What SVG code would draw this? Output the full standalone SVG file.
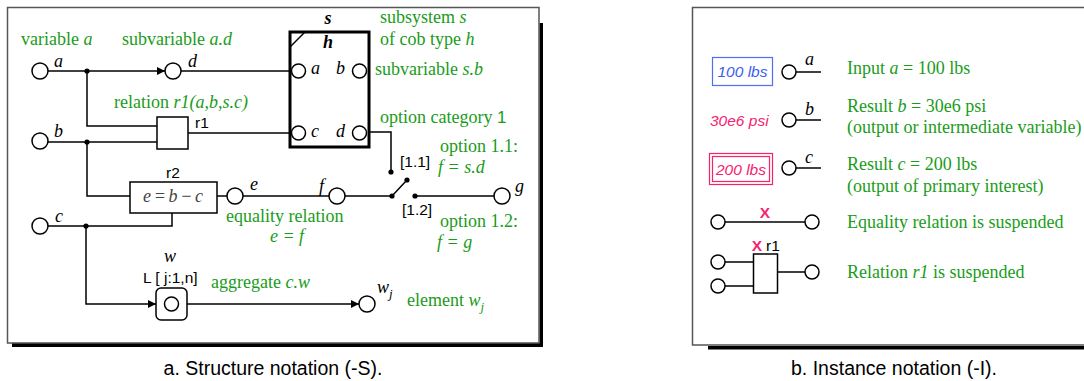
<svg xmlns="http://www.w3.org/2000/svg" width="1084" height="381" viewBox="0 0 1084 381">
<defs>
<marker id="arr" viewBox="0 0 10 10" refX="10" refY="5" markerWidth="8" markerHeight="8" markerUnits="userSpaceOnUse" orient="auto"><path d="M0,0 L10,5 L0,10 Z" fill="#000"/></marker>
</defs>
<style>
.g{font-family:"Liberation Serif",serif;font-size:18px;fill:#1a9c1a}
.lb{font-family:"Liberation Serif",serif;font-size:18px;font-style:italic;fill:#000}
.s{font-family:"Liberation Sans",sans-serif;font-size:15.5px;fill:#000}
.cap{font-family:"Liberation Sans",sans-serif;font-size:19.5px;fill:#000;text-anchor:middle}
.i{font-style:italic}
.n{fill:#fff;stroke:#000;stroke-width:1.5}
.w{fill:none;stroke:#000;stroke-width:1.5}
.dot{fill:#000}
.pk{fill:#f5236f}
</style>
<rect x="0" y="0" width="1084" height="381" fill="#fff"/>
<!-- panel frames -->
<g id="panel-a">
<rect x="539.5" y="23" width="3.5" height="324" fill="#000"/>
<rect x="12" y="343" width="531" height="4" fill="#000"/>
<rect x="7.5" y="7.5" width="531.5" height="335.5" fill="#fff" stroke="#555" stroke-width="1.5"/>
</g>
<g id="panel-b">
<rect x="708" y="346" width="376" height="3.5" fill="#000"/>
<path d="M1084,7.5 H692.5 V345 H1084" fill="#fff" stroke="#555" stroke-width="1.5"/>
</g>
<!-- connectors -->
<g id="connectors" class="w">
<path d="M48,71 H165" marker-end="url(#arr)"/>
<path d="M181,71 H290"/>
<path d="M87,71 V126 H157"/>
<path d="M48,142 H157"/>
<path d="M188,133 H290"/>
<path d="M87,142 V196 H130"/>
<path d="M48,226 H172 V213"/>
<path d="M217,196 H227"/>
<path d="M243,196 H329"/>
<path d="M86,226 V304 H156" marker-end="url(#arr)"/>
<path d="M187,304 H359" marker-end="url(#arr)"/>
<path d="M369,132 H391 V172"/>
<path d="M345,196 H392 L407,180"/>
<path d="M415,196 H494"/>
</g>
<g id="junctions" class="dot">
<circle cx="87" cy="71" r="2.6"/>
<circle cx="87" cy="142" r="2.6"/>
<circle cx="86" cy="226" r="2.6"/>
<circle cx="391" cy="172" r="2.6"/>
<circle cx="392" cy="196" r="2.6"/>
<circle cx="407" cy="180" r="2.6"/>
<circle cx="415" cy="196" r="2.6"/>
</g>
<!-- variable nodes -->
<g id="var-a"><circle class="n" cx="40" cy="71" r="8"/><text class="lb" x="54" y="67">a</text></g>
<g id="var-b"><circle class="n" cx="40" cy="141" r="8"/><text class="lb" x="54" y="137">b</text></g>
<g id="var-c"><circle class="n" cx="40" cy="226" r="8"/><text class="lb" x="55" y="222">c</text></g>
<g id="var-d"><circle class="n" cx="173" cy="71" r="8"/><text class="lb" x="188" y="67">d</text></g>
<g id="var-e"><circle class="n" cx="235" cy="196" r="8"/><text class="lb" x="250" y="190">e</text></g>
<g id="var-f"><circle class="n" cx="337" cy="196" r="8"/><text class="lb" x="319" y="192">f</text></g>
<g id="var-g"><circle class="n" cx="502" cy="196" r="8"/><text class="lb" x="515" y="192">g</text></g>
<g id="var-wj"><circle class="n" cx="367" cy="304" r="8"/><text class="lb" x="377" y="293">w<tspan font-size="13" dy="5">j</tspan></text></g>
<!-- relation r1 -->
<g id="rel-r1"><rect class="n" x="157" y="117" width="31" height="32"/><text class="s" x="195" y="128">r1</text></g>
<!-- relation r2 -->
<g id="rel-r2"><rect class="n" x="130" y="182" width="87" height="31"/><text class="s" x="173" y="178" text-anchor="middle">r2</text>
<text class="lb" x="143" y="202" textLength="60" lengthAdjust="spacing" style="fill:#444">e = b − c</text></g>
<!-- subsystem -->
<g id="subsystem-s">
<rect x="290" y="32" width="79" height="115" fill="#fff" stroke="#000" stroke-width="3"/>
<path d="M290,47 L305,32" class="w"/>
<text class="lb" x="328" y="24" text-anchor="middle" font-weight="bold">s</text>
<text class="lb" x="328" y="48" text-anchor="middle" font-weight="bold">h</text>
<circle class="n" cx="298.5" cy="71" r="7"/><text class="lb" x="311" y="74">a</text>
<circle class="n" cx="359.5" cy="71" r="7"/><text class="lb" x="336" y="74">b</text>
<circle class="n" cx="298.5" cy="133" r="7"/><text class="lb" x="311" y="137">c</text>
<circle class="n" cx="359.5" cy="133" r="7"/><text class="lb" x="336" y="137">d</text>
</g>
<!-- aggregate -->
<g id="aggregate-w">
<rect class="n" x="156" y="288" width="31" height="32" rx="5"/>
<circle class="n" cx="171.5" cy="304" r="7"/>
<text class="lb" x="170" y="262" text-anchor="middle">w</text>
<text class="s" x="143" y="283">L [ j:1,n]</text>
</g>
<!-- switch labels -->
<g id="option-switch">
<text class="s" x="400" y="167">[1.1]</text>
<text class="s" x="402" y="215">[1.2]</text>
</g>
<!-- green annotations panel a -->
<g id="annotations-a">
<text class="g" x="21" y="45">variable <tspan class="i">a</tspan></text>
<text class="g" x="122" y="45">subvariable <tspan class="i">a.d</tspan></text>
<text class="g" x="114" y="108">relation <tspan class="i">r1(a,b,s.c)</tspan></text>
<text class="g" x="380" y="23">subsystem <tspan class="i">s</tspan></text>
<text class="g" x="380" y="45">of cob type <tspan class="i">h</tspan></text>
<text class="g" x="375" y="75">subvariable  <tspan class="i">s.b</tspan></text>
<text class="g" x="380" y="123">option category <tspan font-family="Liberation Sans, sans-serif" font-size="17">1</tspan></text>
<text class="g" x="440" y="152">option 1.1:</text>
<text class="g i" x="438" y="173">f = s.d</text>
<text class="g" x="226" y="222">equality relation</text>
<text class="g i" x="287" y="242" text-anchor="middle">e = f</text>
<text class="g" x="440" y="227">option 1.2:</text>
<text class="g i" x="437" y="248">f = g</text>
<text class="g" x="211" y="288">aggregate <tspan class="i">c.w</tspan></text>
<text class="g" x="407" y="306">element <tspan class="i">w</tspan><tspan class="i" font-size="13" dy="5">j</tspan></text>
</g>
<!-- panel b legend -->
<g id="legend-input">
<rect x="712.5" y="57.5" width="60" height="28" fill="#fff" stroke="#4d6ef5" stroke-width="1.2"/>
<text class="s i" x="742.5" y="77" text-anchor="middle" style="fill:#3a5ff0">100 lbs</text>
<circle class="n" cx="789" cy="72" r="7"/><path class="w" d="M796,72 H821"/>
<text class="lb" x="805" y="65">a</text>
<text class="g" x="847" y="74">Input <tspan class="i">a</tspan> = 100 lbs</text>
</g>
<g id="legend-result">
<text class="s i pk" x="710" y="126">30e6 psi</text>
<circle class="n" cx="789" cy="120" r="7"/><path class="w" d="M796,120 H821"/>
<text class="lb" x="805" y="115">b</text>
<text class="g" x="847" y="112">Result <tspan class="i">b</tspan> = 30e6 psi</text>
<text class="g" x="847" y="133">(output or intermediate variable)</text>
</g>
<g id="legend-primary">
<rect x="709.5" y="153.5" width="63" height="31" fill="#fff" stroke="#f5236f" stroke-width="1.2"/>
<rect x="712.5" y="156.5" width="57" height="25" fill="none" stroke="#f5236f" stroke-width="1.2"/>
<text class="s i pk" x="741" y="175" text-anchor="middle">200 lbs</text>
<circle class="n" cx="789" cy="168" r="7"/><path class="w" d="M796,168 H821"/>
<text class="lb" x="805" y="163">c</text>
<text class="g" x="847" y="170">Result <tspan class="i">c</tspan> = 200 lbs</text>
<text class="g" x="847" y="192">(output of primary interest)</text>
</g>
<g id="legend-eq-suspended">
<path class="w" d="M725,222 H805"/>
<circle class="n" cx="718" cy="222" r="7"/><circle class="n" cx="812" cy="222" r="7"/>
<text class="s pk" x="765" y="218" text-anchor="middle" font-weight="bold" font-size="16">X</text>
<text class="g" x="847" y="228">Equality relation is suspended</text>
</g>
<g id="legend-rel-suspended">
<path class="w" d="M725,262 H753 M725,286 H753 M777,272 H805"/>
<circle class="n" cx="718" cy="262" r="7"/><circle class="n" cx="718" cy="286" r="7"/><circle class="n" cx="812" cy="272" r="7"/>
<rect class="n" x="753.5" y="254" width="24" height="39"/>
<text class="s pk" x="757" y="251" text-anchor="middle" font-weight="bold" font-size="16">X</text>
<text class="s" x="766" y="251">r1</text>
<text class="g" x="847" y="278">Relation <tspan class="i">r1</tspan> is suspended</text>
</g>
<g id="captions">
<text class="cap" x="273" y="375">a. Structure notation (-S).</text>
<text class="cap" x="894" y="375">b. Instance notation (-I).</text>
</g>
</svg>
